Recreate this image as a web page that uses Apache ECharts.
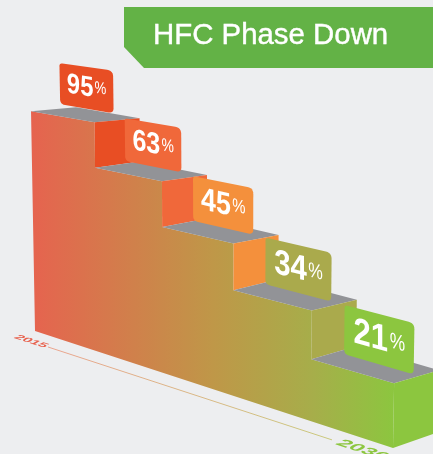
<!DOCTYPE html>
<html><head><meta charset="utf-8">
<style>html,body{margin:0;padding:0;background:#edeef0;overflow:hidden}#c{width:433px;height:454px}</style>
<script src="https://cdn.jsdelivr.net/npm/echarts@6/dist/echarts.min.js"></script>
</head><body><div id="c"></div>
<script>
const titleText = 'HFC Phase Down';
const stepStartYears = [2015, 2017.6, 2020.35, 2023.3, 2026.55];
const lastYear = 2030;
const percentages = [95, 63, 45, 34, 21];
const stairLevels = [95.5, 76.5, 58.2, 40.4, 22.6];
const stepColors = ['#e84e24', '#f0683a', '#f4903c', '#aaaa4c', '#8cc63f'];
const timelineLabels = ['2015', '2030'];

const chart = echarts.init(document.getElementById('c'), null, {renderer: 'canvas'});

// Perspective projection from axis coordinates (year, level) plus a depth into the page
function project(api, year, level, depth) {
  const c = api.coord([year, level]);
  const base = api.coord([2015, 0]);
  const xb = c[0], h = base[1] - c[1], d = xb - base[0];
  const x = xb + h * (xb - 200) * 0.00011 + depth * 45;
  const dy = -(4 + (220 - h) * 0.0536);
  const y = base[1] + 0.327 * d - h * (1 + 0.00069 * d) + depth * dy;
  return [x, y];
}
function roundedPoly(corners, radii) {
  const pts = [], n = corners.length;
  for (let i = 0; i < n; i++) {
    const p = corners[i], a = corners[(i + n - 1) % n], b = corners[(i + 1) % n], r = radii[i];
    const la = Math.hypot(a[0] - p[0], a[1] - p[1]), lb = Math.hypot(b[0] - p[0], b[1] - p[1]);
    const s = [p[0] + (a[0] - p[0]) * r / la, p[1] + (a[1] - p[1]) * r / la];
    const e = [p[0] + (b[0] - p[0]) * r / lb, p[1] + (b[1] - p[1]) * r / lb];
    for (let t = 0; t <= 6; t++) {
      const u = t / 6, v = 1 - u;
      pts.push([v * v * s[0] + 2 * v * u * p[0] + u * u * e[0], v * v * s[1] + 2 * v * u * p[1] + u * u * e[1]]);
    }
  }
  return pts;
}
// Text whose uprights stay vertical and whose baseline follows `slope`:
// a shear written as rotation * scale * rotation (group + child).
function shearedText(x, y, slope, sx, sy, skewX, style) {
  const m00 = sx, m01 = skewX * sy, m10 = slope * sx, m11 = sy + slope * skewX * sy;
  const E = (m00 + m11) / 2, F = (m00 - m11) / 2, G = (m10 + m01) / 2, H = (m10 - m01) / 2;
  const Q = Math.hypot(E, H), R = Math.hypot(F, G);
  const a1 = Math.atan2(G, F), a2 = Math.atan2(H, E);
  const theta = (a2 - a1) / 2, phi = (a2 + a1) / 2;
  return {type: 'group', x, y, rotation: -phi, scaleX: Q + R, scaleY: Q - R, children: [
    {type: 'text', rotation: -theta, style}
  ]};
}

function renderFront(params, api) {
  const pts = [project(api, stepStartYears[0], 0, 0)];
  stepStartYears.forEach((yr, i) => {
    const end = i + 1 < stepStartYears.length ? stepStartYears[i + 1] : lastYear;
    pts.push(project(api, yr, stairLevels[i], 0), project(api, end, stairLevels[i], 0));
  });
  pts.push(project(api, lastYear, 0, 0));
  return {
    type: 'polygon', shape: {points: pts}, silent: true,
    style: {fill: new echarts.graphic.LinearGradient(0, 0, 1, 0, [
      {offset: 0, color: '#e6634f'}, {offset: 0.5, color: '#bf9748'},
      {offset: 0.78, color: '#a6ae4a'}, {offset: 1, color: '#8cc63f'}
    ])}
  };
}

function renderStep(params, api) {
  const i = params.dataIndex;
  const y0 = api.value(0), y1 = api.value(1), lvl = api.value(2);
  const next = i + 1 < stairLevels.length ? stairLevels[i + 1] : 0;
  const children = [];
  const riser = [project(api, y1, lvl, 0), project(api, y1, lvl, 1), project(api, y1, next, 1), project(api, y1, next, 0)];
  children.push({type: 'polygon', shape: {points: [project(api, y0, lvl, 0), project(api, y1, lvl, 0), project(api, y1, lvl, 1), project(api, y0, lvl, 1)]}, style: {fill: '#929397'}});
  children.push({type: 'polygon', shape: {points: riser}, style: {fill: stepColors[i]}});

  const dp = 0.65 + i * 0.02, w = (y1 - y0) * 0.84, lift = (lvl - 55) * 0.05, lh = 18.5;
  const corners = [
    project(api, y0, lvl + lift + lh, dp), project(api, y0 + w, lvl + lift + lh, dp),
    project(api, y0 + w, lvl + lift, dp), project(api, y0, lvl + lift, dp)
  ];
  children.push({type: 'polygon', shape: {points: roundedPoly(corners, [3, 6, 5, 5])}, style: {fill: stepColors[i]}});

  const mid = lvl + lift + lh / 2;
  const a = project(api, y0, mid, dp), b = project(api, y0 + w, mid, dp);
  const slope = (b[1] - a[1]) / (b[0] - a[0]);
  const n = project(api, y0 + w * 0.38, mid, dp), pc = project(api, y0 + w * 0.76, mid, dp);
  const fs = (b[0] - a[0]) * 0.53;
  children.push(shearedText(n[0], n[1], slope, 0.84, 1, 0, {
    text: String(api.value(3)), fill: '#fff', align: 'center', verticalAlign: 'middle',
    font: 'bold ' + fs.toFixed(1) + 'px "Liberation Sans", Arial, sans-serif'}));
  children.push(shearedText(pc[0], pc[1] - 1, slope, 0.78, 1, 0, {
    text: '%', fill: '#fff', align: 'center', verticalAlign: 'middle',
    font: (fs * 0.6).toFixed(1) + 'px "Liberation Sans", Arial, sans-serif'}));
  return {type: 'group', children};
}

function renderTimeline(params, api) {
  const d = -0.385;
  const p0 = project(api, 2016.27, 0, d), p1 = project(api, 2028.17, 0, d);
  const l0 = project(api, 2015.56, 0, d), l1 = project(api, 2029.45, 0, d);
  const slope = (p1[1] - p0[1]) / (p1[0] - p0[0]);
  return {type: 'group', silent: true, children: [
    {type: 'polyline', shape: {points: [p0, p1]}, style: {fill: 'none', lineWidth: 1,
      stroke: new echarts.graphic.LinearGradient(0, 0, 1, 0, [{offset: 0, color: '#eba48f'}, {offset: 1, color: '#c9c97c'}])}},
    shearedText(l0[0], l0[1], slope, 1, 0.55, -1.1, {text: timelineLabels[0], fill: '#e8604c', align: 'center', verticalAlign: 'middle',
      font: 'bold 14px "Liberation Sans", Arial, sans-serif'}),
    shearedText(l1[0], l1[1], slope, 1, 0.55, -1.1, {text: timelineLabels[1], fill: '#8cc63f', align: 'center', verticalAlign: 'middle',
      font: 'bold 22px "Liberation Sans", Arial, sans-serif'})
  ]};
}

const stepRows = stepStartYears.map((yr, i) => [yr, i + 1 < stepStartYears.length ? stepStartYears[i + 1] : lastYear, stairLevels[i], percentages[i]]);

chart.setOption({
  animation: false,
  backgroundColor: '#edeef0',
  grid: {left: 35, width: 358, top: 101, height: 230},
  xAxis: {type: 'value', min: 2015, max: 2030, show: false},
  yAxis: {type: 'value', min: 0, max: 100, show: false},
  title: {text: titleText, left: 153, top: 21, padding: 0, textStyle: {color: '#fff', fontSize: 29.4, fontWeight: 'normal', fontFamily: '"Liberation Sans", Arial, sans-serif', textBorderColor: '#fff', textBorderWidth: 0.4}},
  graphic: [{type: 'polygon', shape: {points: [[124, 7], [433, 7], [433, 68], [144, 68], [124, 47]]}, style: {fill: '#63b246'}}],
  series: [
    {type: 'custom', coordinateSystem: 'cartesian2d', clip: false, silent: true, data: [[2015, 0]], encode: {x: 0, y: 1}, renderItem: renderTimeline, z: 1},
    {type: 'custom', coordinateSystem: 'cartesian2d', clip: false, silent: true, data: [[2015, 0]], encode: {x: 0, y: 1}, renderItem: renderFront, z: 2},
    {type: 'custom', coordinateSystem: 'cartesian2d', clip: false, silent: true, data: stepRows, encode: {x: [0, 1], y: 2}, renderItem: renderStep, z: 3}
  ]
});
</script></body></html>
